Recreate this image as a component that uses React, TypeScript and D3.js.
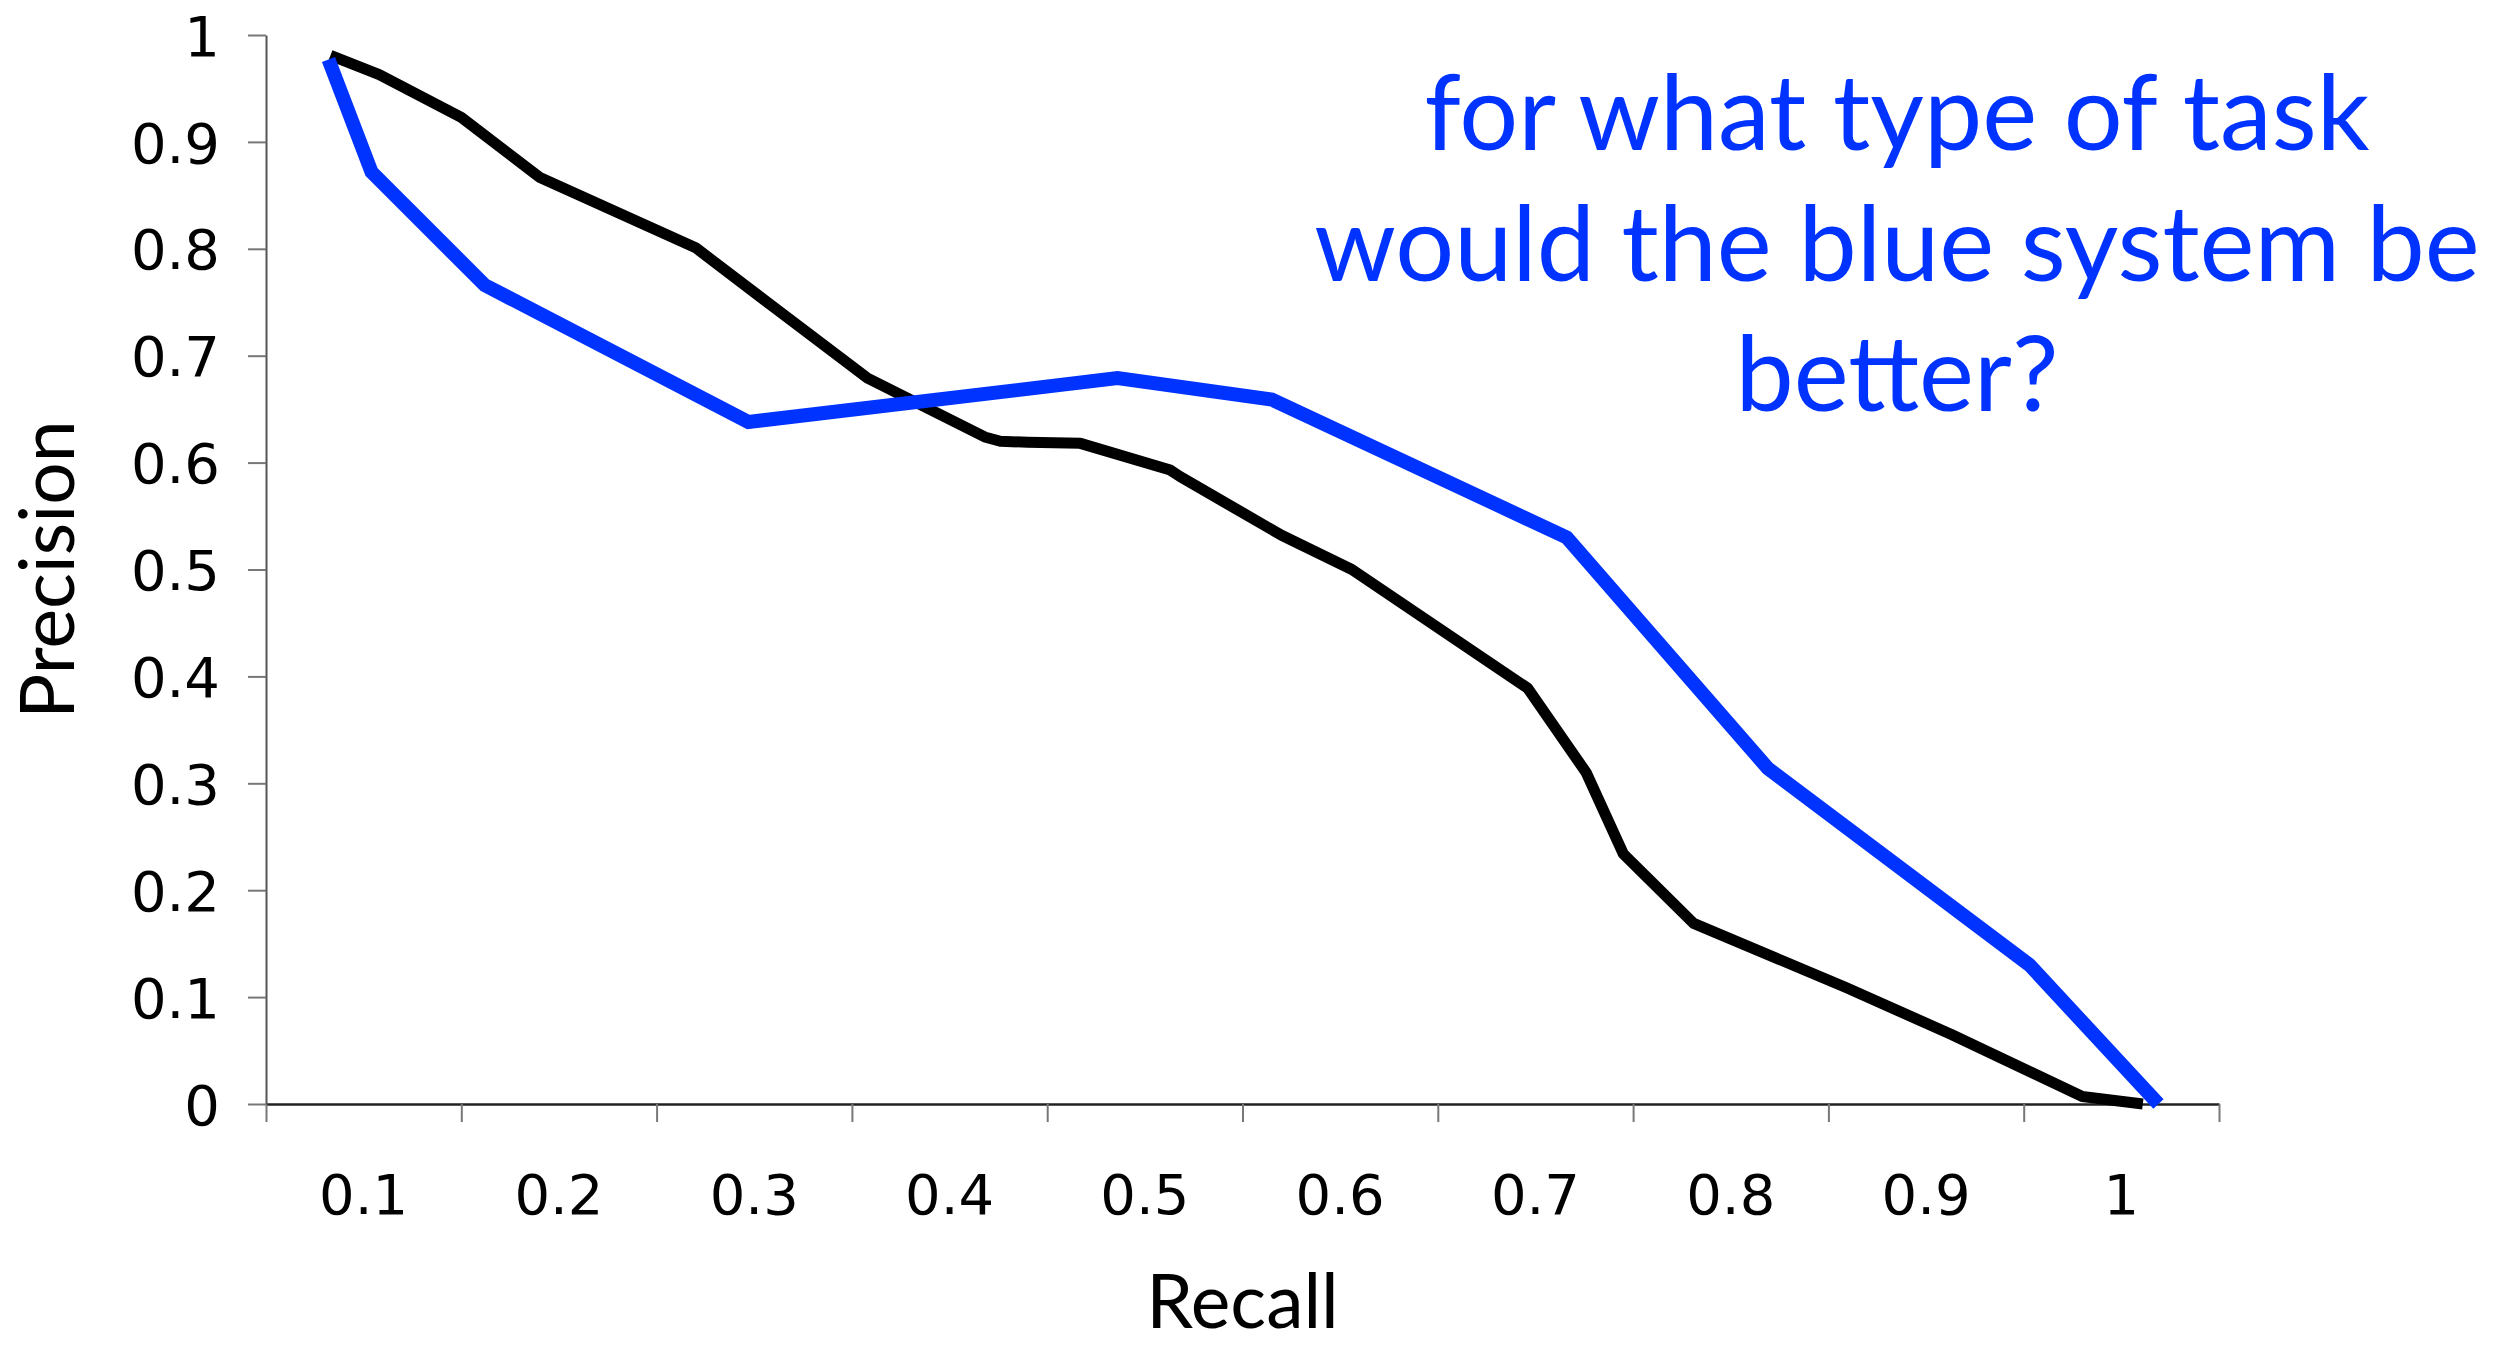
import { useEffect, useRef } from 'react';
import * as d3 from 'd3';

const WIDTH = 2495;
const HEIGHT = 1345;

// black system
const blackRecall = [0.083, 0.108, 0.150, 0.190, 0.270, 0.311, 0.358, 0.418, 0.426, 0.440, 0.467, 0.513, 0.518, 0.570, 0.606, 0.696, 0.726, 0.745, 0.781, 0.859, 0.913, 0.980, 1.011];
const blackPrecision = [0.981, 0.963, 0.923, 0.867, 0.801, 0.744, 0.679, 0.624, 0.620, 0.619, 0.618, 0.593, 0.587, 0.532, 0.500, 0.389, 0.310, 0.234, 0.169, 0.109, 0.065, 0.007, 0.0];

// blue system
const blueRecall = [0.082, 0.104, 0.162, 0.297, 0.486, 0.565, 0.716, 0.819, 0.953, 1.019];
const bluePrecision = [0.977, 0.872, 0.766, 0.638, 0.679, 0.659, 0.530, 0.314, 0.130, 0.0];

const xTickLabels = ['0.1', '0.2', '0.3', '0.4', '0.5', '0.6', '0.7', '0.8', '0.9', '1'];
const yTickLabels = ['0', '0.1', '0.2', '0.3', '0.4', '0.5', '0.6', '0.7', '0.8', '0.9', '1'];
const noteLines = ['for what type of task', 'would the blue system be', 'better?'];

const TICK_FONT = '"DejaVu Sans", Verdana, sans-serif';
const TITLE_FONT = 'Lato, "Open Sans", sans-serif';
const BLUE = '#0033ff';

export default function App() {
  const svgRef = useRef<SVGSVGElement>(null);

  useEffect(() => {
    const svg = d3.select(svgRef.current);
    if (!svg.node()) return;
    svg.selectAll('*').remove();

    const margin = { top: 35, right: 276, bottom: 241, left: 266 };
    const innerW = WIDTH - margin.left - margin.right;
    const innerH = HEIGHT - margin.top - margin.bottom;

    // category-style axis: ticks between the labels
    const x = d3.scaleLinear().domain([0.05, 1.05]).range([0, innerW]);
    const y = d3.scaleLinear().domain([0, 1]).range([innerH, 0]);

    const g = svg.append('g').attr('transform', `translate(${margin.left},${margin.top})`);

    const xTickValues = d3.range(11).map((i) => 0.05 + i * 0.1);
    const yTickValues = yTickLabels.map((_, i) => i / 10);

    const xAxis = g.append('g')
      .attr('transform', `translate(0,${innerH})`)
      .call(d3.axisBottom(x).tickValues(xTickValues).tickSize(18).tickSizeOuter(0).tickFormat(() => ''));
    xAxis.select('.domain').attr('stroke', '#222').attr('stroke-width', 2.5);
    xAxis.selectAll('.tick line').attr('stroke', '#777').attr('stroke-width', 2);

    const yAxis = g.append('g')
      .call(
        d3.axisLeft(y)
          .tickValues(yTickValues)
          .tickSize(18)
          .tickSizeOuter(0)
          .tickPadding(28)
          .tickFormat((_, i) => yTickLabels[i]),
      );
    yAxis.select('.domain').attr('stroke', '#555').attr('stroke-width', 2);
    yAxis.selectAll('.tick line').attr('stroke', '#777').attr('stroke-width', 2);
    yAxis.selectAll('.tick text')
      .attr('fill', '#000')
      .attr('font-size', 56)
      .attr('font-family', TICK_FONT)
      .attr('dy', '0.36em');

    g.append('g')
      .selectAll('text')
      .data(xTickLabels)
      .join('text')
      .attr('x', (_, i) => x((i + 1) / 10))
      .attr('y', innerH + 110)
      .attr('text-anchor', 'middle')
      .attr('font-size', 56)
      .attr('font-family', TICK_FONT)
      .attr('fill', '#000')
      .text((d) => d);

    const line = d3.line<[number, number]>()
      .x((d) => x(d[0]))
      .y((d) => y(d[1]));

    const blackPts = blackRecall.map((r, i) => [r, blackPrecision[i]] as [number, number]);
    const bluePts = blueRecall.map((r, i) => [r, bluePrecision[i]] as [number, number]);

    g.append('path')
      .attr('d', line(blackPts))
      .attr('fill', 'none')
      .attr('stroke', '#000')
      .attr('stroke-width', 11)
      .attr('stroke-linejoin', 'round');

    g.append('path')
      .attr('d', line(bluePts))
      .attr('fill', 'none')
      .attr('stroke', BLUE)
      .attr('stroke-width', 14)
      .attr('stroke-linejoin', 'miter');

    // axis titles
    svg.append('text')
      .attr('transform', `translate(74,${margin.top + innerH / 2}) rotate(-90)`)
      .attr('text-anchor', 'middle')
      .attr('font-size', 75)
      .attr('font-family', TITLE_FONT)
      .attr('fill', '#000')
      .text('Precision');

    svg.append('text')
      .attr('x', margin.left + innerW / 2)
      .attr('y', 1328)
      .attr('text-anchor', 'middle')
      .attr('font-size', 75)
      .attr('font-family', TITLE_FONT)
      .attr('fill', '#000')
      .text('Recall');

    // annotation
    svg.append('g')
      .selectAll('text')
      .data(noteLines)
      .join('text')
      .attr('x', 1897)
      .attr('y', (_, i) => 150 + i * 130.5)
      .attr('text-anchor', 'middle')
      .attr('font-size', 104)
      .attr('font-family', TITLE_FONT)
      .attr('fill', BLUE)
      .text((d) => d);
  }, []);

  return (
    <svg
      ref={svgRef}
      width={WIDTH}
      height={HEIGHT}
      style={{ position: 'absolute', left: 0, top: 0, background: '#fff' }}
    />
  );
}
